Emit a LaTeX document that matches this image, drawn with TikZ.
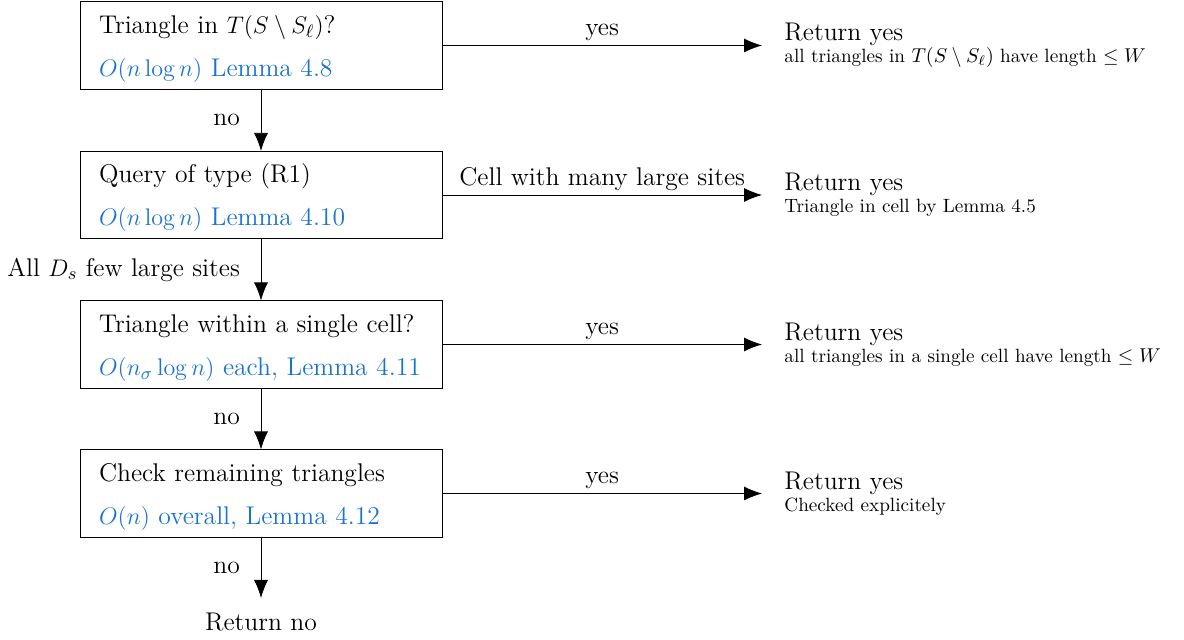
\documentclass[tikz,border=0pt]{standalone}
\usepackage{amsmath}
\usepackage{amssymb}
\usetikzlibrary{arrows.meta}

\definecolor{lemmablue}{RGB}{25,115,210}
\newcommand{\boxfont}{\fontsize{12.8}{15.5}\selectfont}
\newcommand{\notefont}{\fontsize{9.6}{11.5}\selectfont}
\newcommand{\cost}[1]{\textcolor{lemmablue}{#1}}
\newcommand{\topgap}{\rule{0pt}{12.5pt}}

\tikzset{
  stepbox/.style={draw, rectangle, minimum width=181pt, minimum height=42.5pt,
    text width=162pt, inner xsep=9.5pt, align=left, font=\boxfont},
  result/.style={anchor=west, inner xsep=11pt, inner ysep=0pt, align=left, font=\boxfont},
  arr/.style={-{Latex[length=9pt,width=7pt]}},
  lab/.style={font=\boxfont},
}

\begin{document}
\begin{tikzpicture}[x=0.5pt, y=-0.5pt]
\useasboundingbox (0,0) rectangle (1184,640);

% steps of the test
\node[stepbox] (tri) at (261,45.5) {\topgap Triangle in $T(S\setminus S_\ell)$?\\[6pt]\cost{$O(n\log n)$ Lemma 4.8}};
\node[stepbox] (query) at (261,195) {\topgap Query of type (R1)\\[6pt]\cost{$O(n\log n)$ Lemma 4.10}};
\node[stepbox] (cell) at (261,344.5) {\topgap Triangle within a single cell?\\[6pt]\cost{$O(n_\sigma\log n)$ each, Lemma 4.11}};
\node[stepbox] (rest) at (261,493.5) {\topgap Check remaining triangles\\[6pt]\cost{$O(n)$ overall, Lemma 4.12}};

% outcomes
\node[result] (yesA) at (762,45.5) {Return yes\\[-4.5pt]{\notefont all triangles in $T(S\setminus S_\ell)$ have length $\leq W$}};
\node[result] (yesB) at (762,195) {Return yes\\[-4.5pt]{\notefont Triangle in cell by Lemma 4.5}};
\node[result] (yesC) at (762,344.5) {Return yes\\[-4.5pt]{\notefont all triangles in a single cell have length $\leq W$}};
\node[result] (yesD) at (762,493.5) {Return yes\\[-4.5pt]{\notefont Checked explicitely}};
\node[font=\boxfont, anchor=north, inner ysep=7.5pt] (no) at (261,598) {Return no};

% connectors
\draw[arr] (tri) -- node[lab, midway, left=7pt] {no} (query);
\draw[arr] (query) -- node[lab, midway, left=7pt] {All $D_s$ few large sites} (cell);
\draw[arr] (cell) -- node[lab, midway, left=7pt] {no} (rest);
\draw[arr] (rest) -- node[lab, midway, left=7pt] {no} (no);

\draw[arr] (tri) -- node[lab, midway, above, inner sep=2pt] {yes} (yesA);
\draw[arr] (query) -- node[lab, midway, above, inner sep=2pt] {Cell with many large sites} (yesB);
\draw[arr] (cell) -- node[lab, midway, above, inner sep=2pt] {yes} (yesC);
\draw[arr] (rest) -- node[lab, midway, above, inner sep=2pt] {yes} (yesD);
\end{tikzpicture}
\end{document}
